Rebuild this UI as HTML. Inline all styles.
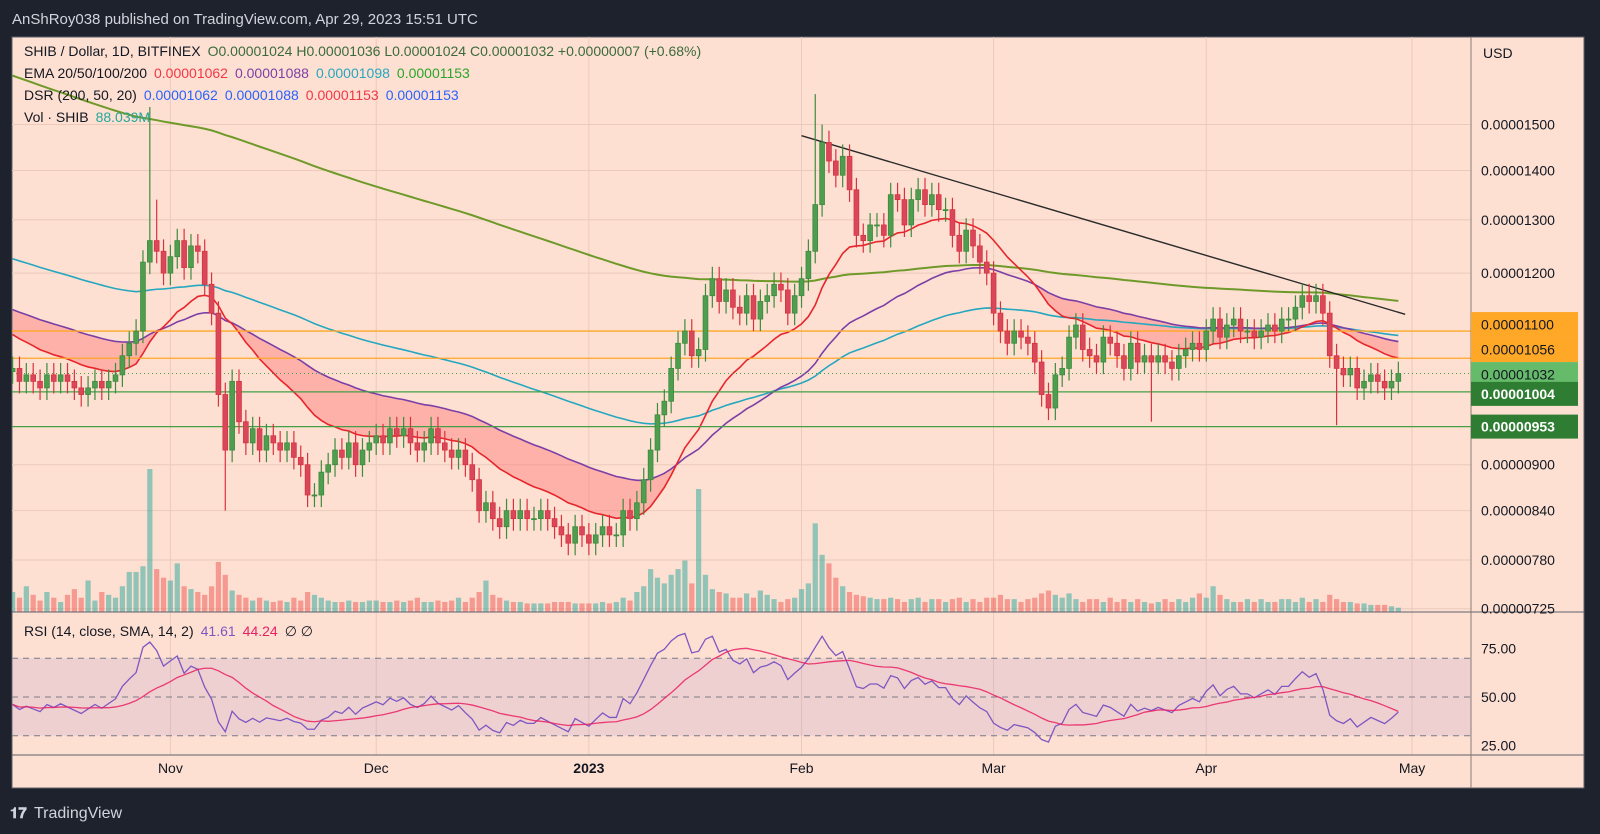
<!DOCTYPE html>
<html><head><meta charset="utf-8">
<style>
html,body{margin:0;padding:0;background:#1e222d;width:1600px;height:834px;overflow:hidden;font-family:"Liberation Sans",sans-serif}
svg{position:absolute;left:0;top:0}
</style></head>
<body>
<svg id="chart" width="1600" height="834" xmlns="http://www.w3.org/2000/svg"></svg>
<script>
// ---- data (price in 1e-6 USD), index 0 = 2022-10-09 ----
const closes = [
10.4,10.2,10.3,10.2,10.1,10.3,10.2,10.3,10.2,10.1,10.0,10.1,10.2,10.1,
10.2,10.3,10.6,10.8,11.0,12.2,12.6,12.4,12.0,
12.3,12.6,12.1,12.5,12.4,11.8,11.3,10.0,9.2,10.2,
9.6,9.3,9.5,9.2,9.4,9.3,9.2,9.3,9.1,9.0,
8.6,8.6,8.9,9.0,9.2,9.1,9.3,9.0,9.2,9.3,
9.4,9.3,9.5,9.4,9.5,9.3,9.2,9.3,9.5,9.3,
9.2,9.1,9.2,9.0,8.8,8.4,8.5,8.3,8.2,8.4,
8.3,8.4,8.3,8.3,8.4,8.3,8.2,8.1,8.0,8.2,8.1,
8.0,8.1,8.2,8.1,8.1,8.4,8.3,8.5,8.8,9.2,
9.7,9.9,10.4,10.8,11.0,10.6,10.7,11.6,11.9,11.5,
11.7,11.4,11.3,11.6,11.2,11.5,11.6,11.8,11.7,11.3,11.6,
11.9,12.4,13.3,14.6,14.2,13.9,14.3,13.6,12.7,12.6,
12.9,12.9,12.7,13.5,13.4,12.9,13.4,13.6,13.3,13.5,
13.2,13.2,12.7,12.4,12.8,12.5,12.2,12.0,
11.3,11.0,10.8,11.0,10.9,10.8,10.5,10.0,9.8,10.3,
10.4,10.9,11.1,10.7,10.6,10.5,10.9,10.8,10.6,10.4,
10.8,10.5,10.6,10.5,10.6,10.5,10.4,10.6,10.7,10.8,10.7,
11.0,11.2,10.9,11.1,11.2,11.0,11.0,10.9,11.0,11.1,
11.0,11.2,11.2,11.4,11.6,11.5,11.6,11.3,10.6,10.4,
10.3,10.4,10.1,10.2,10.3,10.2,10.1,10.2,10.32];
const volumes = [
14,10,18,12,8,14,10,7,12,16,10,22,8,14,12,10,18,28,28,32,100,30,24,
22,34,18,16,14,12,18,35,26,15,
12,10,8,10,8,7,8,7,10,8,
14,12,10,8,7,7,8,7,7,8,
8,7,7,8,7,8,10,7,7,8,
7,8,10,7,10,14,22,12,10,8,
7,7,6,6,6,6,7,7,7,6,6,
6,6,7,6,7,10,8,14,18,30,
24,20,26,30,36,20,86,26,16,14,
13,10,10,13,10,15,12,9,7,9,10,
16,20,62,40,34,24,18,14,12,11,
10,9,9,10,9,7,9,10,7,9,
9,7,9,10,7,9,7,10,
10,12,9,9,7,9,10,13,15,12,
10,13,9,7,9,9,7,10,7,9,
7,9,7,6,7,9,7,9,7,10,13,
10,18,12,9,7,7,9,7,9,7,
7,9,9,7,10,7,9,7,12,9,
7,7,6,6,5,5,5,4,3];
const extremeHighs = {20:15.4, 21:13.4, 117:15.7, 118:15.0};
const extremeLows = {31:8.4, 166:9.6, 193:9.55};
const priceTicks = [15,14,13,12,9,8.4,7.8,7.25];
const priceTickLabels = ["0.00001500","0.00001400","0.00001300","0.00001200","0.00000900","0.00000840","0.00000780","0.00000725"];
const levels = [11.0,10.56,10.04,9.53];
const rsiTicks = [75,50,25];
const months = ["Nov","Dec","2023","Feb","Mar","Apr","May"];
const monthDays = [23,53,84,115,143,174,204];
const ema200Seed = 16.2, ema100Seed = 12.3, ema50Seed = 11.4, ema20Seed = 11.0;
const trendStart = [115, 14.75], trendEnd = [203, 11.28];

// ---- axes ----
const L=12,R=1471,T=37,MB=612,RB=755,B=788;
const xOf = d => 170.4 + (d-23)*6.86;
const yOf = p => 124.5 + 666*(Math.log(15)-Math.log(p));
const rY = v => 697 - (v-50)*1.94;
const volY = v => MB - v*1.43;

const svg=document.getElementById('chart');
const NS='http://www.w3.org/2000/svg';
function el(tag,attrs,parent){const e=document.createElementNS(NS,tag);for(const k in attrs)e.setAttribute(k,attrs[k]);(parent||svg).appendChild(e);return e;}
function txt(s,x,y,attrs,parent){const e=el('text',Object.assign({x:x,y:y,'font-family':'Liberation Sans, sans-serif','font-size':14,fill:'#131722'},attrs),parent);e.textContent=s;return e;}

const bg=el('rect',{x:L,y:T,width:1584-L,height:B-T,fill:'#fde0d2',stroke:'#5d606b','stroke-width':1});


const defs=el('defs',{});
const cp=el('clipPath',{id:'mainClip'},defs);el('rect',{x:L,y:T,width:R-L,height:MB-T},cp);
const cp2=el('clipPath',{id:'rsiClip'},defs);el('rect',{x:L,y:MB,width:R-L,height:RB-MB},cp2);

const grid=el('g',{stroke:'#ecc9bb','stroke-width':1});


monthDays.forEach(d=>{el('line',{x1:xOf(d),x2:xOf(d),y1:T,y2:RB},grid);});
priceTicks.forEach(p=>{el('line',{x1:L,x2:R,y1:yOf(p),y2:yOf(p)},grid);});

const main=el('g',{'clip-path':'url(#mainClip)'});



const opens=closes.map((c,i)=>i===0?10.35:closes[i-1]);
volumes.forEach((v,i)=>{
  const up=closes[i]>=opens[i];
  const r=el('rect',{x:xOf(i)-2.6,y:volY(v),width:5.2,height:MB-volY(v),fill:up?'rgba(38,166,154,0.5)':'rgba(239,83,80,0.5)'},main);
  
  
});

function ema(seed,n){const a=2/(n+1);let e=seed;return closes.map(c=>{e=e+a*(c-e);return e;});}
const e20=ema(ema20Seed,20),e50=ema(ema50Seed,50),e100=ema(ema100Seed,100),e200=ema(ema200Seed,200);
let seg=[];
function flush(){if(seg.length>1){const pts=seg.map(i=>xOf(i)+','+yOf(e20[i])).concat(seg.slice().reverse().map(i=>xOf(i)+','+yOf(e50[i])));const p=el('polygon',{points:pts.join(' '),fill:'rgba(255,120,120,0.45)'},main);}seg=[];}
for(let i=0;i<closes.length;i++){if(e20[i]<e50[i])seg.push(i);else{if(seg.length)seg.push(i);flush();}}flush();
function line(arr,color,name,w){const p=el('polyline',{points:arr.map((v,i)=>xOf(i)+','+yOf(v)).join(' '),fill:'none',stroke:color,'stroke-width':w||1.6},main);}
line(e200,'#6f9a2a','ema-200-line',2);
line(e100,'#26a7c0','ema-100-line');line(e50,'#7b3fa6','ema-50-line');line(e20,'#e8252b','ema-20-line');

const levColors=['#ffa726','#ffa726','#43a047','#43a047'];
levels.forEach((p,i)=>{const l=el('line',{x1:L,x2:R,y1:yOf(p),y2:yOf(p),stroke:levColors[i],'stroke-width':1.3},main);});
const lastY=yOf(closes[closes.length-1]);
el('line',{x1:L,x2:R,y1:lastY,y2:lastY,stroke:'#43a047','stroke-width':1,'stroke-dasharray':'1,3'},main);

const tl=el('line',{x1:xOf(trendStart[0]),y1:yOf(trendStart[1]),x2:xOf(trendEnd[0]),y2:yOf(trendEnd[1]),stroke:'#2a2a2a','stroke-width':1.4},main);



closes.forEach((c,i)=>{
  const o=opens[i],up=c>=o;
  const hi=extremeHighs[i]||Math.max(o,c)*1.018, lo=extremeLows[i]||Math.min(o,c)*0.982;
  const col=up?'#3d8b3d':'#d9323f', fillc=up?'#4f9e4f':'#d9485a';
  const g=el('g',{},main);
  
  
  el('line',{x1:xOf(i),x2:xOf(i),y1:yOf(hi),y2:yOf(lo),stroke:col,'stroke-width':1.2},g);
  const yt=yOf(Math.max(o,c)),yb=yOf(Math.min(o,c));
  el('rect',{x:xOf(i)-2.4,y:yt,width:4.8,height:Math.max(1,yb-yt),fill:fillc,stroke:col,'stroke-width':0.8},g);
});

// RSI (Wilder, seeded neutral)
const rsi=[];let ag=0.12,al=0.14;
rsi[0]=100-100/(1+ag/al);
for(let i=1;i<closes.length;i++){const ch=closes[i]-closes[i-1];const g=Math.max(ch,0),l=Math.max(-ch,0);
 ag=(ag*13+g)/14;al=(al*13+l)/14;
 rsi[i]=al===0?100:100-100/(1+ag/al);}
const rsiSma=rsi.map((v,i)=>{const s=rsi.slice(Math.max(0,i-13),i+1);return s.reduce((a,b)=>a+b,0)/s.length;});
const rg=el('g',{'clip-path':'url(#rsiClip)'});


el('rect',{x:L,y:rY(70),width:R-L,height:rY(30)-rY(70),fill:'rgba(180,140,200,0.18)'},rg);
[70,50,30].forEach(v=>el('line',{x1:L,x2:R,y1:rY(v),y2:rY(v),stroke:'#787b86','stroke-width':1,'stroke-dasharray':'6,5'},rg));
const rl=el('polyline',{points:rsi.map((v,i)=>xOf(i)+','+rY(v)).join(' '),fill:'none',stroke:'#7e57c2','stroke-width':1.3},rg);

const sl=el('polyline',{points:rsiSma.map((v,i)=>xOf(i)+','+rY(v)).join(' '),fill:'none',stroke:'#e91e63','stroke-width':1.3,opacity:0.85},rg);


el('line',{x1:L,x2:1584,y1:MB,y2:MB,stroke:'#5d606b','stroke-width':1});
el('line',{x1:L,x2:1584,y1:RB,y2:RB,stroke:'#5d606b','stroke-width':1});
el('line',{x1:R,x2:R,y1:T,y2:B,stroke:'#8a7a74','stroke-width':1});

const pa=el('g',{});


txt('USD',1483,58,{},pa);
priceTicks.forEach((p,i)=>txt(priceTickLabels[i],1481,yOf(p)+5,{},pa));
function box(y,h,fill,label,color,bold,name){const g=el('g',{},pa);el('rect',{x:R,y:y,width:107,height:h,fill:fill},g);txt(label,1481,y+h/2+5,{fill:color,'font-weight':bold?'bold':'normal'},g);}
const y1100=yOf(levels[0]);
box(y1100-19,25,'#ffa726','0.00001100','#131722',false,'level-label-1100');
box(y1100+6,25,'#ffa726','0.00001056','#131722',false,'level-label-1056');
box(y1100+31,25,'#66bb6a','0.00001032','#131722',false,'last-price-label');
box(yOf(levels[2])-10,24,'#2e7d32','0.00001004','#ffffff',true,'level-label-1004');
box(yOf(levels[3])-12,24,'#2e7d32','0.00000953','#ffffff',true,'level-label-953');
rsiTicks.forEach(v=>txt(v.toFixed(2),1481,rY(v)+5,{},pa));

const ta=el('g',{});


months.forEach((m,i)=>txt(m,xOf(monthDays[i]),773,{'text-anchor':'middle','font-weight':m==='2023'?'bold':'normal'},ta));

const lg=el('g',{});


function row(y,parts){let x=24;parts.forEach(([s,c])=>{const t=txt(s,x,y,{fill:c},lg);x+=t.getComputedTextLength()+7;});}
row(56,[['SHIB / Dollar, 1D, BITFINEX','#131722'],['O0.00001024  H0.00001036  L0.00001024  C0.00001032  +0.00000007 (+0.68%)','#3b6b3b']]);
row(78,[['EMA 20/50/100/200','#131722'],['0.00001062','#f23645'],['0.00001088','#7b3fa6'],['0.00001098','#26a7c0'],['0.00001153','#2aa52a']]);
row(100,[['DSR (200, 50, 20)','#131722'],['0.00001062','#2962ff'],['0.00001088','#2962ff'],['0.00001153','#f23645'],['0.00001153','#2962ff']]);
row(122,[['Vol · SHIB','#131722'],['88.039M','#26a69a']]);
row(636,[['RSI (14, close, SMA, 14, 2)','#131722'],['41.61','#7e57c2'],['44.24','#e91e63'],['∅  ∅','#131722']]);

txt('AnShRoy038 published on TradingView.com, Apr 29, 2023 15:51 UTC',12,24,{fill:'#d1d4dc','font-size':15});
const ft=txt('TradingView',34,818,{fill:'#d1d4dc','font-size':16});


txt('𝟏𝟕',10,818,{fill:'#d1d4dc','font-size':15,'font-weight':'bold'});
</script>
</body></html>
